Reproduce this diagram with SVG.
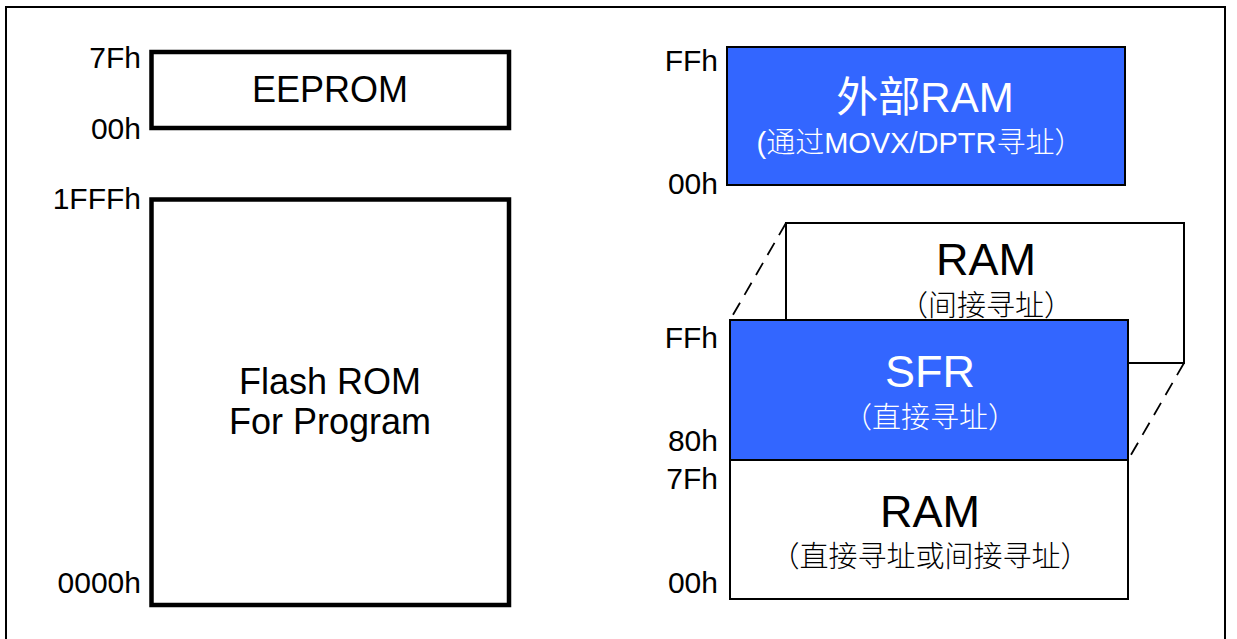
<svg xmlns="http://www.w3.org/2000/svg" width="1237" height="639" viewBox="0 0 1237 639">
<style>
.lbl{font-family:"Liberation Sans",Arial,sans-serif;font-size:30px;fill:#000;text-anchor:end}
.big{font-family:"Liberation Sans",Arial,sans-serif;font-size:36px;fill:#000;text-anchor:middle}
.title{font-family:"Liberation Sans","Noto Sans CJK SC",sans-serif;font-size:45px;text-anchor:middle}
.sub{font-family:"Liberation Sans","Noto Sans CJK SC",sans-serif;font-size:29px;text-anchor:middle;font-weight:300}
.w{fill:#fff}
.k{fill:#000}
.thick{fill:#fff;stroke:#000;stroke-width:4.5}
.thin{stroke:#000;stroke-width:2}
.blue{fill:#3366FF}
.dash{fill:none;stroke:#000;stroke-width:1.8;stroke-dasharray:14,9}
</style>
<rect x="0" y="0" width="1237" height="639" fill="#fff"/>
<path d="M6 645 V7 H1225 V645" fill="none" stroke="#000" stroke-width="2"/>

<g id="eeprom">
<rect class="thick" x="151.5" y="52" width="357.5" height="76"/>
<text class="big" x="330" y="102">EEPROM</text>
<text class="lbl" x="141" y="68">7Fh</text>
<text class="lbl" x="141" y="139">00h</text>
</g>

<g id="flash">
<rect class="thick" x="151.5" y="199.5" width="357.5" height="405.5"/>
<text class="big" x="330" y="394">Flash ROM</text>
<text class="big" x="330" y="434">For Program</text>
<text class="lbl" x="141" y="209">1FFFh</text>
<text class="lbl" x="141" y="593">0000h</text>
</g>

<g id="ext-ram">
<rect class="thin blue" x="727" y="47" width="398" height="138"/>
<text class="title w" x="925" y="112" style="font-size:42px">外部RAM</text>
<text class="sub w" x="920" y="153">(通过MOVX/DPTR寻址）</text>
<text class="lbl" x="718" y="71">FFh</text>
<text class="lbl" x="718" y="194">00h</text>
</g>

<g id="connectors">
<line class="dash" x1="786" y1="223" x2="730" y2="320"/>
<line class="dash" x1="1184" y1="223" x2="1128" y2="320"/>
<line class="dash" x1="1184" y1="363" x2="1128" y2="460"/>
</g>

<g id="ram-indirect">
<rect class="thin" fill="#fff" x="786" y="223" width="398" height="140"/>
<text class="title k" x="986" y="275">RAM</text>
<text class="sub k" x="986" y="316">（间接寻址）</text>
</g>

<g id="sfr">
<rect class="thin blue" x="730" y="320" width="398" height="140"/>
<text class="title w" x="930" y="387">SFR</text>
<text class="sub w" x="930" y="428">（直接寻址）</text>
<text class="lbl" x="718" y="348">FFh</text>
<text class="lbl" x="718" y="451">80h</text>
</g>

<g id="ram-direct">
<rect class="thin" fill="#fff" x="730" y="460" width="398" height="139"/>
<text class="title k" x="930" y="527">RAM</text>
<text class="sub k" x="930" y="567">（直接寻址或间接寻址）</text>
<text class="lbl" x="718" y="489">7Fh</text>
<text class="lbl" x="718" y="593">00h</text>
</g>
</svg>
